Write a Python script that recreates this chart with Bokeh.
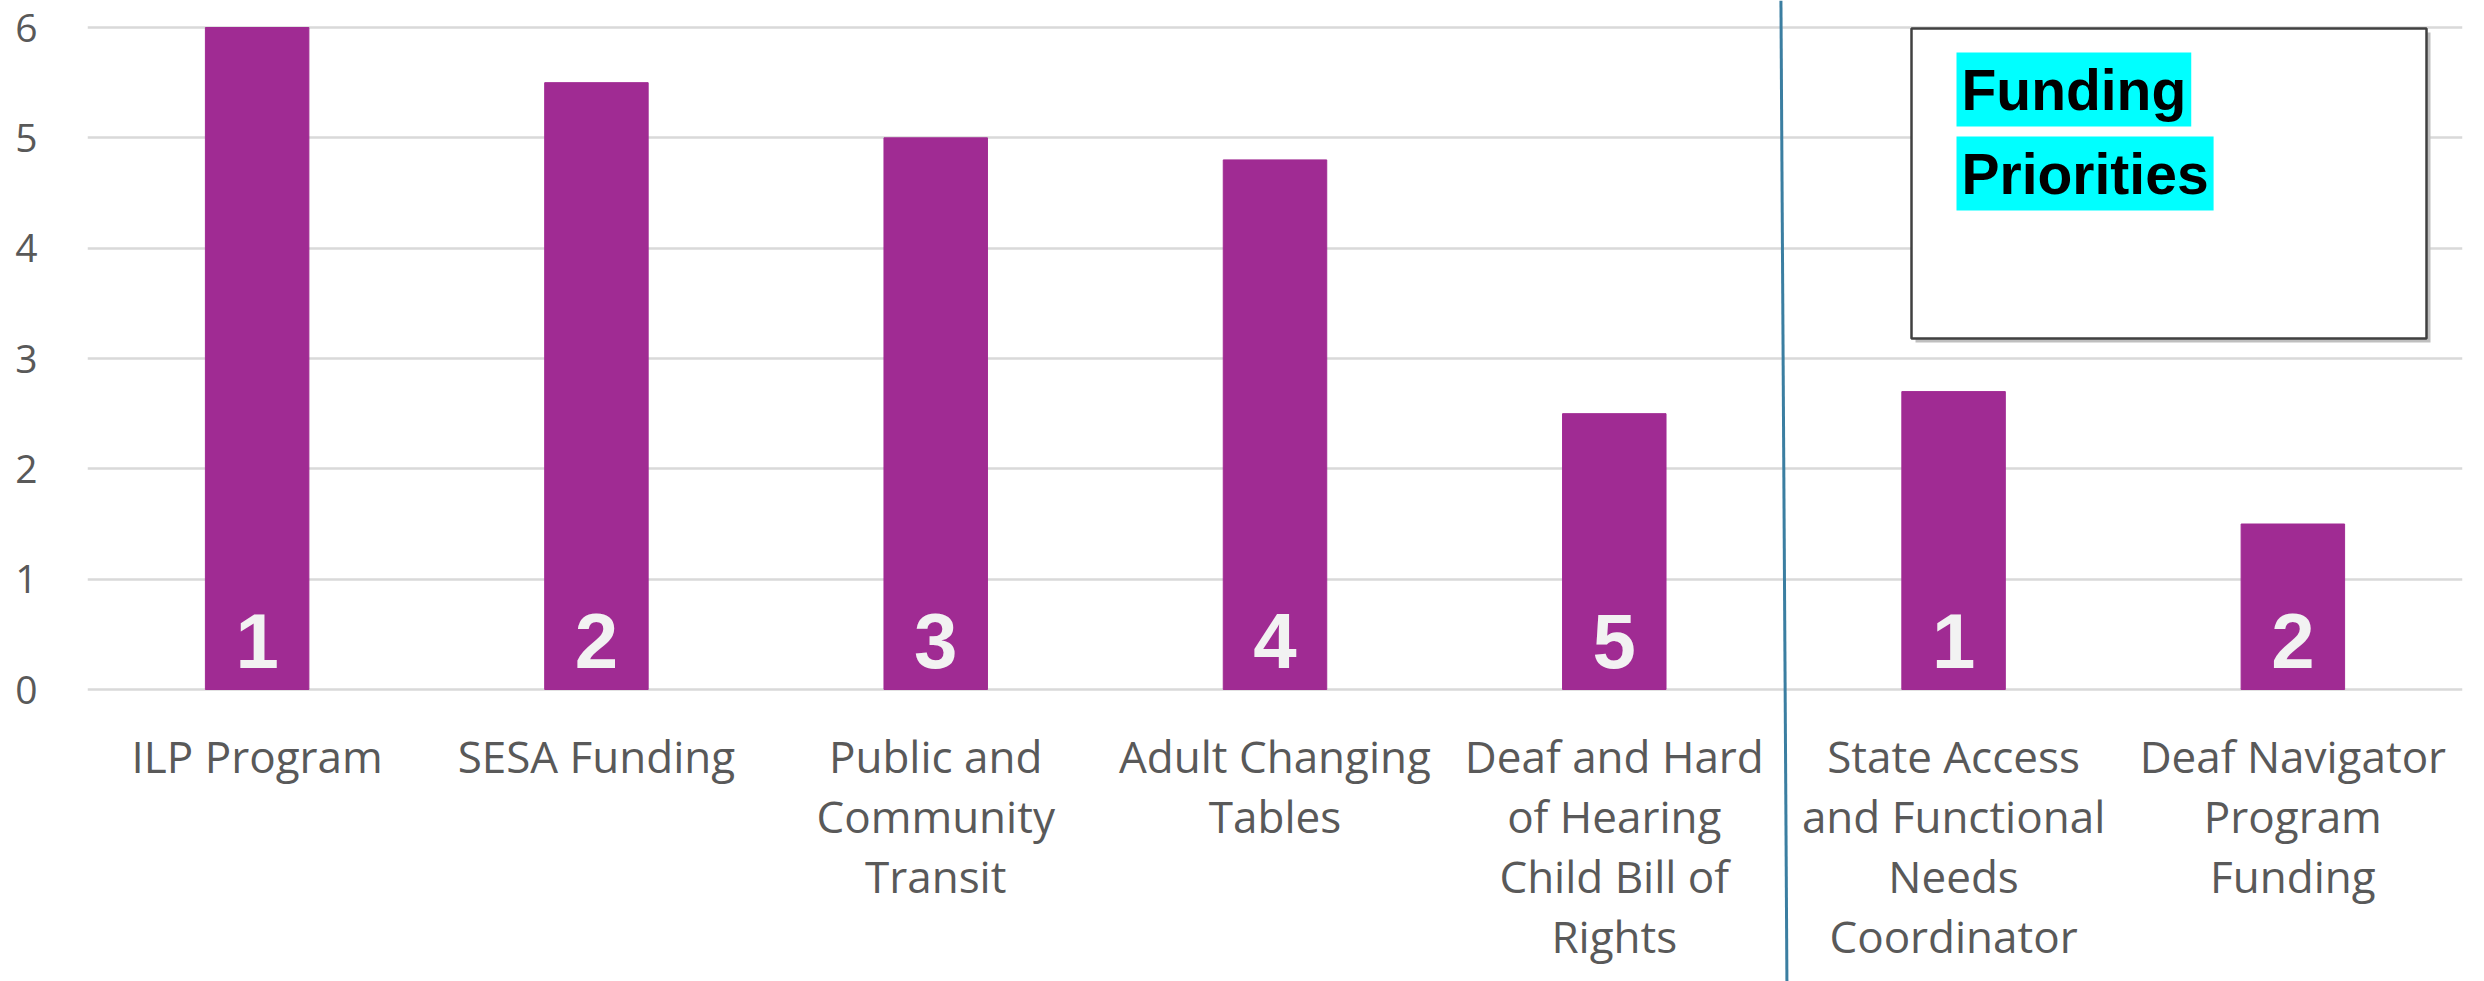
from bokeh.plotting import figure
from bokeh.models import Range1d, FixedTicker, BoxAnnotation, Label, ColumnDataSource
from bokeh.embed import file_html
from bokeh.resources import INLINE
from bokeh.core.properties import value

# ---------------- data ----------------
categories = [
    "ILP Program",
    "SESA Funding",
    "Public and Community Transit",
    "Adult Changing Tables",
    "Deaf and Hard of Hearing Child Bill of Rights",
    "State Access and Functional Needs Coordinator",
    "Deaf Navigator Program Funding",
]
category_labels = [
    "ILP Program",
    "SESA Funding",
    "Public and\nCommunity\nTransit",
    "Adult Changing\nTables",
    "Deaf and Hard\nof Hearing\nChild Bill of\nRights",
    "State Access\nand Functional\nNeeds\nCoordinator",
    "Deaf Navigator\nProgram\nFunding",
]
values = [6, 5.5, 5, 4.8, 2.5, 2.7, 1.5]
ranks = ["1", "2", "3", "4", "5", "1", "2"]
group_sizes = [5, 2]
y_ticks = [0, 1, 2, 3, 4, 5, 6]
box_title = ["Funding", "Priorities"]

# ---------------- layout ----------------
W, H = 2484, 981
LEFT, RIGHT = 87, 22
Y0_PX, Y6_PX = 689, 27           # pixel rows of y=0 and y=6
n = len(categories)
ppu_y = (Y0_PX - Y6_PX) / 6.0
ppu_x = (W - LEFT - RIGHT) / n
y_top = 6 + Y6_PX / ppu_y
y_bot = -(H - Y0_PX) / ppu_y

def dx(px):   # page x pixel -> data x
    return (px - LEFT) / ppu_x

def dy(py):   # page y pixel -> data y
    return y_top - py / ppu_y

xs = [i + 0.5 for i in range(n)]

p = figure(width=W, height=H, output_backend="svg", toolbar_location=None,
           x_range=Range1d(0, n), y_range=Range1d(y_bot, y_top),
           x_axis_location=None, min_border_left=LEFT, min_border_right=RIGHT,
           min_border_top=0, min_border_bottom=0)
p.outline_line_color = None
p.background_fill_color = "white"
p.border_fill_color = "white"

p.yaxis.ticker = FixedTicker(ticks=y_ticks)
p.yaxis.axis_line_color = None
p.yaxis.major_tick_line_color = None
p.yaxis.minor_tick_line_color = None
p.yaxis.major_tick_out = 0
p.yaxis.major_tick_in = 0
p.yaxis.major_label_standoff = 50
p.yaxis.major_label_text_font = "Open Sans"
p.yaxis.major_label_text_font_size = "39px"
p.yaxis.major_label_text_color = "#595959"

p.xgrid.visible = False
p.ygrid.grid_line_color = "#D9D9D9"
p.ygrid.grid_line_width = 2.5

src = ColumnDataSource(dict(x=xs, top=values, rank=ranks, lab=category_labels, cat=categories))
p.vbar(x="x", top="top", bottom=0, width=0.305, source=src,
       fill_color="#A02B93", line_color="#A02B93")

p.text(x="x", y=dy(640), text="rank", source=src, text_align="center",
       text_baseline="middle", text_font=value("Liberation Sans"),
       text_font_style="bold", text_font_size="78px", text_color="#F2F2F2")

p.text(x="x", y=dy(725), text="lab", source=src, text_align="center",
       text_baseline="top", text_font=value("Open Sans"), text_font_size="44px",
       text_color="#595959", text_line_height=1.0)

# group divider
bx = group_sizes[0]
p.segment(x0=[bx - 3 / ppu_x], y0=[y_top], x1=[bx + 3 / ppu_x], y1=[y_bot],
          line_color="#3B7EA1", line_width=3)

# title box (with a soft shadow)
p.add_layout(BoxAnnotation(left=dx(1915), right=dx(2430), top=dy(32), bottom=dy(342),
                           fill_color="#BFBFBF", fill_alpha=1.0,
                           line_color=None))
p.add_layout(BoxAnnotation(left=dx(1911), right=dx(2426), top=dy(28), bottom=dy(338),
                           fill_color="white", fill_alpha=1.0,
                           line_color="#404040", line_alpha=1.0, line_width=2.5))
for i, t in enumerate(box_title):
    p.add_layout(Label(x=dx(1956), y=dy(52 + i * 84), text=t,
                       text_font="Liberation Sans", text_font_style="bold",
                       text_font_size="57px", text_color="black",
                       text_baseline="top", background_fill_color="#00FFFF",
                       padding=5))

open("out.html", "w").write(file_html(p, INLINE))
